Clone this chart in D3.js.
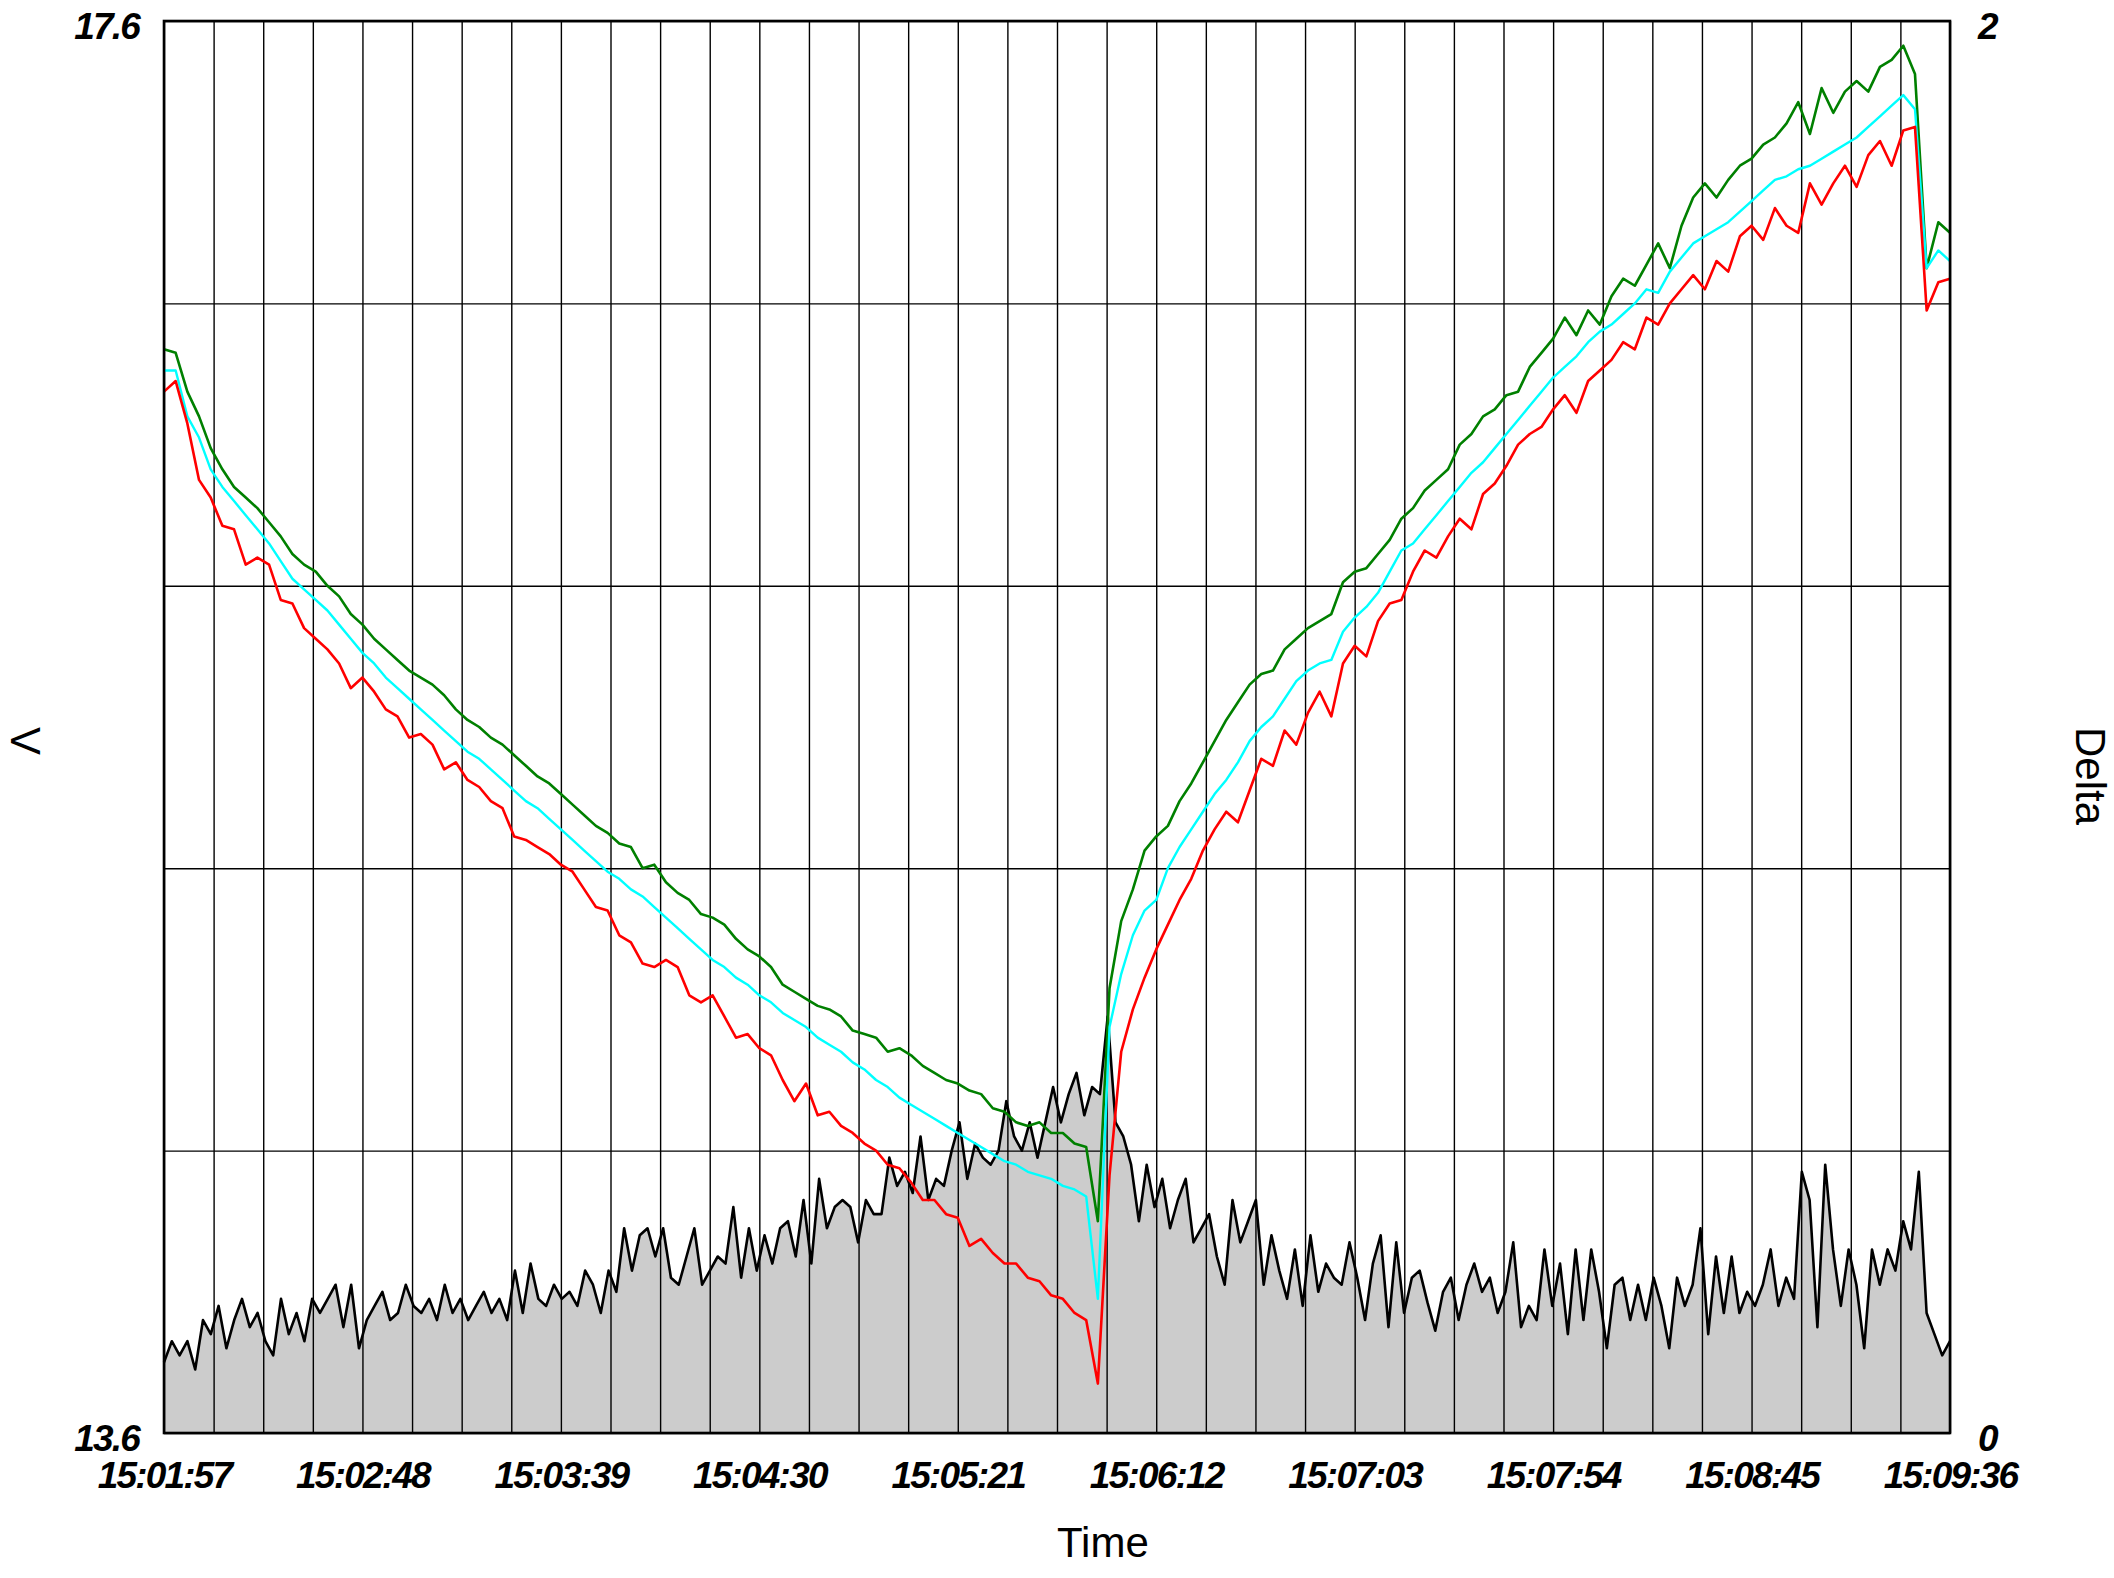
<!DOCTYPE html>
<html>
<head>
<meta charset="utf-8">
<script src="https://cdn.jsdelivr.net/npm/d3@7"></script>
<style>
  body { margin: 0; background: #fff; }
  text { font-family: "Liberation Sans", Arial, sans-serif; }
  .tick-label { font-size: 37px; font-weight: bold; font-style: italic; letter-spacing: -1.8px; fill: #000; }
  .title { font-size: 42px; fill: #000; }
</style>
</head>
<body>
<svg id="chart" width="2114" height="1578"></svg>
<script>
// time axis labels (every 51 s)
const tickLabels = ['15:01:57', '15:02:48', '15:03:39', '15:04:30', '15:05:21',
  '15:06:12', '15:07:03', '15:07:54', '15:08:45', '15:09:36'];
const vTicks = [13.6, 17.6];
const dTicks = [0, 2];

// V series, one sample every 3 s from 15:01:57
const greenV = [
  16.67,16.66,16.55,16.48,16.39,16.33,16.28,16.25,16.22,16.18,
  16.14,16.09,16.06,16.04,16.00,15.97,15.92,15.89,15.85,15.82,
  15.79,15.76,15.74,15.72,15.69,15.65,15.62,15.60,15.57,15.55,
  15.52,15.49,15.46,15.44,15.41,15.38,15.35,15.32,15.30,15.27,
  15.26,15.20,15.21,15.16,15.13,15.11,15.07,15.06,15.04,15.00,
  14.97,14.95,14.92,14.87,14.85,14.83,14.81,14.80,14.78,14.74,
  14.73,14.72,14.68,14.69,14.67,14.64,14.62,14.60,14.59,14.57,
  14.56,14.52,14.51,14.48,14.47,14.48,14.45,14.45,14.42,14.41,
  14.20,14.86,15.05,15.14,15.25,15.29,15.32,15.39,15.44,15.50,
  15.56,15.62,15.67,15.72,15.75,15.76,15.82,15.85,15.88,15.90,
  15.92,16.01,16.04,16.05,16.09,16.13,16.19,16.22,16.27,16.30,
  16.33,16.40,16.43,16.48,16.50,16.54,16.55,16.62,16.66,16.70,
  16.76,16.71,16.78,16.74,16.82,16.87,16.85,16.91,16.97,16.90,
  17.02,17.10,17.14,17.10,17.15,17.19,17.21,17.25,17.27,17.31,
  17.37,17.28,17.41,17.34,17.40,17.43,17.40,17.47,17.49,17.53,
  17.45,16.90,17.03,17.00
];
const cyanV = [
  16.61,16.61,16.48,16.42,16.33,16.28,16.24,16.20,16.16,16.12,
  16.07,16.02,15.99,15.96,15.93,15.89,15.85,15.81,15.78,15.74,
  15.71,15.68,15.65,15.62,15.59,15.56,15.53,15.51,15.48,15.45,
  15.42,15.39,15.37,15.34,15.31,15.28,15.25,15.22,15.19,15.17,
  15.14,15.12,15.09,15.06,15.03,15.00,14.97,14.94,14.92,14.89,
  14.87,14.84,14.82,14.79,14.77,14.75,14.72,14.70,14.68,14.65,
  14.63,14.60,14.58,14.55,14.53,14.51,14.49,14.47,14.45,14.43,
  14.41,14.39,14.37,14.36,14.34,14.33,14.32,14.30,14.29,14.27,
  13.98,14.75,14.90,15.01,15.08,15.11,15.20,15.26,15.31,15.36,
  15.41,15.45,15.50,15.56,15.60,15.63,15.68,15.73,15.76,15.78,
  15.79,15.87,15.91,15.94,15.98,16.04,16.10,16.12,16.16,16.20,
  16.24,16.28,16.32,16.35,16.39,16.43,16.47,16.51,16.55,16.59,
  16.62,16.65,16.69,16.72,16.74,16.77,16.80,16.84,16.83,16.89,
  16.93,16.97,16.99,17.01,17.03,17.06,17.09,17.12,17.15,17.16,
  17.18,17.19,17.21,17.23,17.25,17.27,17.30,17.33,17.36,17.39,
  17.35,16.90,16.95,16.92
];
const redV = [
  16.55,16.58,16.46,16.30,16.25,16.17,16.16,16.06,16.08,16.06,
  15.96,15.95,15.88,15.85,15.82,15.78,15.71,15.74,15.70,15.65,
  15.63,15.57,15.58,15.55,15.48,15.50,15.45,15.43,15.39,15.37,
  15.29,15.28,15.26,15.24,15.21,15.19,15.14,15.09,15.08,15.01,
  14.99,14.93,14.92,14.94,14.92,14.84,14.82,14.84,14.78,14.72,
  14.73,14.69,14.67,14.60,14.54,14.59,14.50,14.51,14.47,14.45,
  14.42,14.40,14.36,14.35,14.31,14.26,14.26,14.22,14.21,14.13,
  14.15,14.11,14.08,14.08,14.04,14.03,13.99,13.98,13.94,13.92,
  13.74,14.33,14.68,14.80,14.89,14.97,15.04,15.11,15.17,15.25,
  15.31,15.36,15.33,15.42,15.51,15.49,15.59,15.55,15.64,15.70,
  15.63,15.78,15.83,15.80,15.90,15.95,15.96,16.04,16.10,16.08,
  16.14,16.19,16.16,16.26,16.29,16.34,16.40,16.43,16.45,16.50,
  16.54,16.49,16.58,16.61,16.64,16.69,16.67,16.76,16.74,16.80,
  16.84,16.88,16.84,16.92,16.89,16.99,17.02,16.98,17.07,17.02,
  17.00,17.14,17.08,17.14,17.19,17.13,17.22,17.26,17.19,17.29,
  17.30,16.78,16.86,16.87
];

// Delta series, one sample every 2 s from 15:01:57
const delta = [
  0.10,0.13,0.11,0.13,0.09,0.16,0.14,0.18,0.12,0.16,
  0.19,0.15,0.17,0.13,0.11,0.19,0.14,0.17,0.13,0.19,
  0.17,0.19,0.21,0.15,0.21,0.12,0.16,0.18,0.20,0.16,
  0.17,0.21,0.18,0.17,0.19,0.16,0.21,0.17,0.19,0.16,
  0.18,0.20,0.17,0.19,0.16,0.23,0.17,0.24,0.19,0.18,
  0.21,0.19,0.20,0.18,0.23,0.21,0.17,0.23,0.20,0.29,
  0.23,0.28,0.29,0.25,0.29,0.22,0.21,0.25,0.29,0.21,
  0.23,0.25,0.24,0.32,0.22,0.29,0.23,0.28,0.24,0.29,
  0.30,0.25,0.33,0.24,0.36,0.29,0.32,0.33,0.32,0.27,
  0.33,0.31,0.31,0.39,0.35,0.37,0.34,0.42,0.33,0.36,
  0.35,0.40,0.44,0.36,0.41,0.39,0.38,0.40,0.47,0.42,
  0.40,0.44,0.39,0.44,0.49,0.44,0.48,0.51,0.45,0.49,
  0.48,0.59,0.44,0.42,0.38,0.30,0.38,0.32,0.36,0.29,
  0.33,0.36,0.27,0.29,0.31,0.25,0.21,0.33,0.27,0.30,
  0.33,0.21,0.28,0.23,0.19,0.26,0.18,0.28,0.20,0.24,
  0.22,0.21,0.27,0.22,0.16,0.24,0.28,0.15,0.27,0.17,
  0.22,0.23,0.185,0.145,0.20,0.22,0.16,0.21,0.24,0.20,
  0.22,0.17,0.20,0.27,0.15,0.18,0.16,0.26,0.18,0.24,
  0.14,0.26,0.16,0.26,0.20,0.12,0.21,0.22,0.16,0.21,
  0.16,0.22,0.18,0.12,0.22,0.18,0.21,0.29,0.14,0.25,
  0.17,0.25,0.17,0.20,0.18,0.21,0.26,0.18,0.22,0.19,
  0.37,0.33,0.15,0.38,0.26,0.18,0.26,0.21,0.12,0.26,
  0.21,0.26,0.23,0.30,0.26,0.37,0.17,0.14,0.11,0.13
];

const plotL = 164, plotR = 1950, plotT = 21, plotB = 1433;
const svg = d3.select('#chart');

const parseT = d3.timeParse('%H:%M:%S');
const labelTimes = tickLabels.map(parseT);
const t0 = labelTimes[0], t1 = labelTimes[labelTimes.length - 1];
const span = t1 - t0;

const x = d3.scaleTime().domain([t0, t1]).range([plotL, plotR]);
const yV = d3.scaleLinear().domain([13.6, 17.6]).range([plotB, plotT]);
const yD = d3.scaleLinear().domain([0, 2]).range([plotB, plotT]);

// sample i of a series spread evenly over the time span
const xAt = (arr) => (d, i) => x(new Date(+t0 + i * span / (arr.length - 1)));

// gray delta area
svg.append('path')
  .datum(delta)
  .attr('fill', '#cccccc')
  .attr('d', d3.area().x(xAt(delta)).y0(yD(0)).y1(d => yD(d)));

// grid: 4 vertical lines per labelled interval, 5 horizontal bands
const gridTimes = d3.range(37).map(i => new Date(+t0 + i * span / 36));
const gx = svg.append('g')
  .attr('transform', `translate(0,${plotB})`)
  .call(d3.axisBottom(x).tickValues(gridTimes).tickSize(-(plotB - plotT)).tickFormat(''));
const gy = svg.append('g')
  .attr('transform', `translate(${plotL},0)`)
  .call(d3.axisLeft(yV).tickValues(d3.range(6).map(i => 13.6 + i * 0.8)).tickSize(-(plotR - plotL)).tickFormat(''));
[gx, gy].forEach(g => {
  g.select('.domain').remove();
  g.selectAll('line').attr('stroke', '#000').attr('stroke-width', 1.4);
});

const line = (arr, scale, color, w) =>
  svg.append('path')
    .datum(arr)
    .attr('fill', 'none')
    .attr('stroke', color)
    .attr('stroke-width', w)
    .attr('stroke-linejoin', 'round')
    .attr('d', d3.line().x(xAt(arr)).y(d => scale(d)));

line(delta, yD, '#000', 2.6);
line(greenV, yV, '#008000', 2.6);
line(cyanV, yV, '#00ffff', 2.4);
line(redV, yV, '#ff0000', 2.6);

// frame
svg.append('rect')
  .attr('x', plotL).attr('y', plotT)
  .attr('width', plotR - plotL).attr('height', plotB - plotT)
  .attr('fill', 'none').attr('stroke', '#000').attr('stroke-width', 2.6);

// axis labels
const ax = svg.append('g')
  .attr('transform', `translate(0,${plotB})`)
  .call(d3.axisBottom(x).tickValues(labelTimes).tickSize(0).tickFormat(d3.timeFormat('%H:%M:%S')));
const ayl = svg.append('g')
  .attr('transform', `translate(${plotL},0)`)
  .call(d3.axisLeft(yV).tickValues(vTicks).tickSize(0).tickPadding(25).tickFormat(d3.format('.1f')));
const ayr = svg.append('g')
  .attr('transform', `translate(${plotR},0)`)
  .call(d3.axisRight(yD).tickValues(dTicks).tickSize(0).tickPadding(28).tickFormat(d3.format('d')));
[ax, ayl, ayr].forEach(g => {
  g.select('.domain').remove();
  g.attr('font-family', null).attr('font-size', null);
  g.selectAll('text').attr('class', 'tick-label');
});
ax.selectAll('text').attr('y', 55).attr('dy', null);
ayl.selectAll('text').attr('dy', '0.48em');
ayr.selectAll('text').attr('dy', '0.48em');

svg.append('text').attr('class', 'title')
  .attr('x', (plotL + plotR) / 2).attr('y', 1557)
  .text('Time');
svg.append('text').attr('class', 'title')
  .attr('transform', `translate(11,${(plotT + plotB) / 2}) rotate(90)`)
  .text('V');
svg.append('text').attr('class', 'title')
  .attr('transform', `translate(2076,${(plotT + plotB) / 2}) rotate(90)`)
  .text('Delta');
</script>
</body>
</html>
